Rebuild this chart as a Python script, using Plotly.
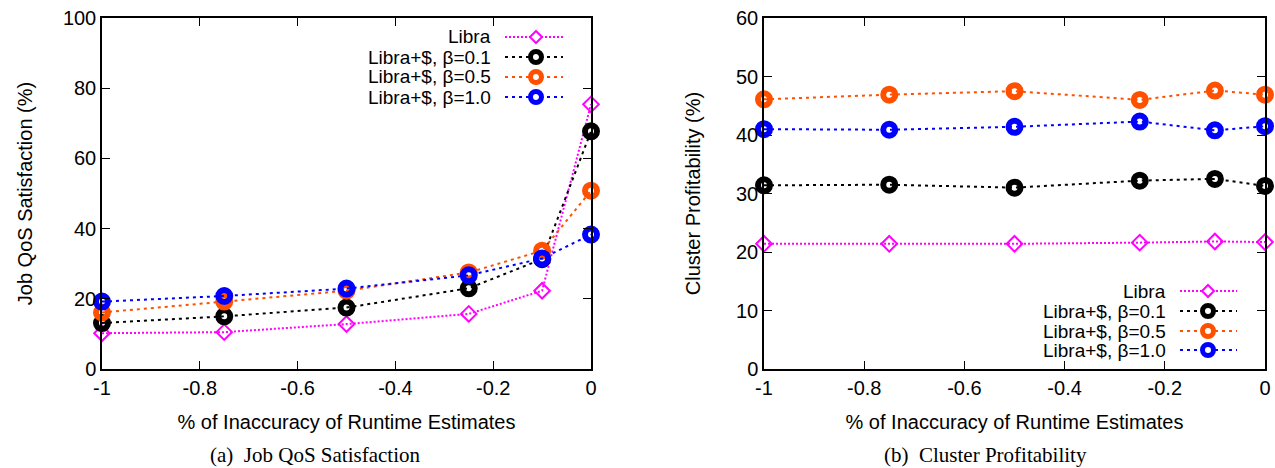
import plotly.graph_objects as go

# ---------------- data ----------------
x_vals = [-1, -0.75, -0.5, -0.25, -0.1, 0]

series_names = ["Libra", "Libra+$, β=0.1", "Libra+$, β=0.5", "Libra+$, β=1.0"]

qos_libra = [10.2, 10.5, 12.8, 15.7, 22.3, 75.4]
qos_b01 = [13.1, 15.0, 17.5, 23.0, 31.3, 67.7]
qos_b05 = [16.1, 19.2, 22.3, 27.5, 33.7, 50.8]
qos_b10 = [19.2, 20.8, 22.9, 26.7, 31.5, 38.3]

prof_libra = [21.4, 21.4, 21.4, 21.6, 21.8, 21.7]
prof_b01 = [31.4, 31.5, 31.0, 32.2, 32.5, 31.3]
prof_b05 = [46.1, 46.9, 47.5, 46.0, 47.6, 46.9]
prof_b10 = [41.0, 40.9, 41.4, 42.3, 40.8, 41.5]

x_ticks = [-1, -0.8, -0.6, -0.4, -0.2, 0]
x_tick_labels = ["-1", "-0.8", "-0.6", "-0.4", "-0.2", "0"]

# ---------------- styles ----------------
colors = ["#ff00ff", "#000000", "#ff5000", "#0000ff"]
dashes = ["2px,2px", "3px,4px", "3px,4px", "3px,4px"]
symbols = ["diamond-open", "circle-open", "circle-open", "circle-open"]
msizes = [12, 12, 12, 12]
mlw = [2, 6, 6, 6]

W, H = 1275, 468
def px(x):
    return x / W
def py(y):
    return 1 - y / H

fig = go.Figure()

left_series = [qos_libra, qos_b01, qos_b05, qos_b10]
right_series = [prof_libra, prof_b01, prof_b05, prof_b10]

for i, ys in enumerate(left_series):
    fig.add_trace(go.Scatter(
        x=x_vals, y=ys, mode="lines+markers", name=series_names[i],
        line=dict(color=colors[i], width=2, dash=dashes[i]),
        marker=dict(symbol=symbols[i], size=msizes[i], color=colors[i],
                    line=dict(color=colors[i], width=mlw[i])),
        showlegend=False, xaxis="x", yaxis="y", cliponaxis=False))
for i, ys in enumerate(right_series):
    fig.add_trace(go.Scatter(
        x=x_vals, y=ys, mode="lines+markers", name=series_names[i],
        line=dict(color=colors[i], width=2, dash=dashes[i]),
        marker=dict(symbol=symbols[i], size=msizes[i], color=colors[i],
                    line=dict(color=colors[i], width=mlw[i])),
        showlegend=False, xaxis="x2", yaxis="y2", cliponaxis=False))

font_sans = "Liberation Sans, Arial, sans-serif"
font_serif = "Liberation Serif, Times New Roman, serif"

axis_common = dict(
    showline=True, mirror="ticks", linecolor="black", linewidth=1.5,
    ticks="inside", ticklen=8, tickwidth=1.2, tickcolor="black",
    showgrid=False, zeroline=False, automargin=False,
    tickfont=dict(family=font_sans, size=20, color="black"),
)
title_font = dict(family=font_sans, size=20, color="black")

fig.update_layout(
    width=W, height=H,
    margin=dict(l=0, r=0, t=0, b=0, autoexpand=False),
    paper_bgcolor="white", plot_bgcolor="white",
    showlegend=False,
    xaxis=dict(domain=[px(102), px(591)], range=[-1, 0], anchor="y",
               tickvals=x_ticks, ticktext=x_tick_labels,
               title=dict(text="% of Inaccuracy of Runtime Estimates",
                          font=title_font, standoff=17),
               **axis_common),
    yaxis=dict(domain=[py(369), py(18)], range=[0, 100], anchor="x",
               tickvals=[0, 20, 40, 60, 80, 100],
               title=dict(text="Job QoS Satisfaction (%)",
                          font=title_font, standoff=25),
               **axis_common),
    xaxis2=dict(domain=[px(764), px(1265)], range=[-1, 0], anchor="y2",
                tickvals=x_ticks, ticktext=x_tick_labels,
                title=dict(text="% of Inaccuracy of Runtime Estimates",
                           font=title_font, standoff=17),
                **axis_common),
    yaxis2=dict(domain=[py(369), py(18)], range=[0, 60], anchor="x2",
                tickvals=[0, 10, 20, 30, 40, 50, 60],
                title=dict(text="Cluster Profitability (%)",
                           font=title_font, standoff=30),
                **axis_common),
)

# ---------------- manual gnuplot-style legends ----------------
shapes = []
annotations = []

def add_legend(text_right, line_x0, line_x1, mark_x, row_ys):
    for i, name in enumerate(series_names):
        yy = row_ys[i]
        annotations.append(dict(
            x=px(text_right), y=py(yy), xref="paper", yref="paper",
            text=name, showarrow=False, xanchor="right", yanchor="middle",
            font=dict(family=font_sans, size=19, color="black")))
        shapes.append(dict(
            type="line", xref="paper", yref="paper",
            x0=px(line_x0), x1=px(line_x1), y0=py(yy), y1=py(yy),
            line=dict(color=colors[i], width=2, dash=dashes[i])))
        if i == 0:
            s = 6
            shapes.append(dict(
                type="path", xref="paper", yref="paper",
                xsizemode="pixel", ysizemode="pixel",
                xanchor=px(mark_x), yanchor=py(yy),
                path=f"M 0 {s} L {s} 0 L 0 {-s} L {-s} 0 Z",
                fillcolor="white", line=dict(color=colors[i], width=2)))
        else:
            r = 5.5
            shapes.append(dict(
                type="circle", xref="paper", yref="paper",
                xsizemode="pixel", ysizemode="pixel",
                xanchor=px(mark_x), yanchor=py(yy),
                x0=-r, x1=r, y0=-r, y1=r,
                fillcolor="white", line=dict(color=colors[i], width=5)))

add_legend(493, 505, 563, 536, [37, 57, 77, 97])
add_legend(1168, 1180, 1237, 1208, [291, 311, 331, 350])

# captions
annotations.append(dict(x=px(315), y=py(455), xref="paper", yref="paper",
                        text="(a)  Job QoS Satisfaction", showarrow=False,
                        xanchor="center", yanchor="middle",
                        font=dict(family=font_serif, size=21, color="black")))
annotations.append(dict(x=px(985), y=py(455), xref="paper", yref="paper",
                        text="(b)  Cluster Profitability", showarrow=False,
                        xanchor="center", yanchor="middle",
                        font=dict(family=font_serif, size=21, color="black")))

fig.update_layout(shapes=shapes, annotations=annotations)

fig.write_html("out.html",
               config={"displayModeBar": False},
               post_script="document.body.style.margin='0';document.body.style.overflow='hidden';")
